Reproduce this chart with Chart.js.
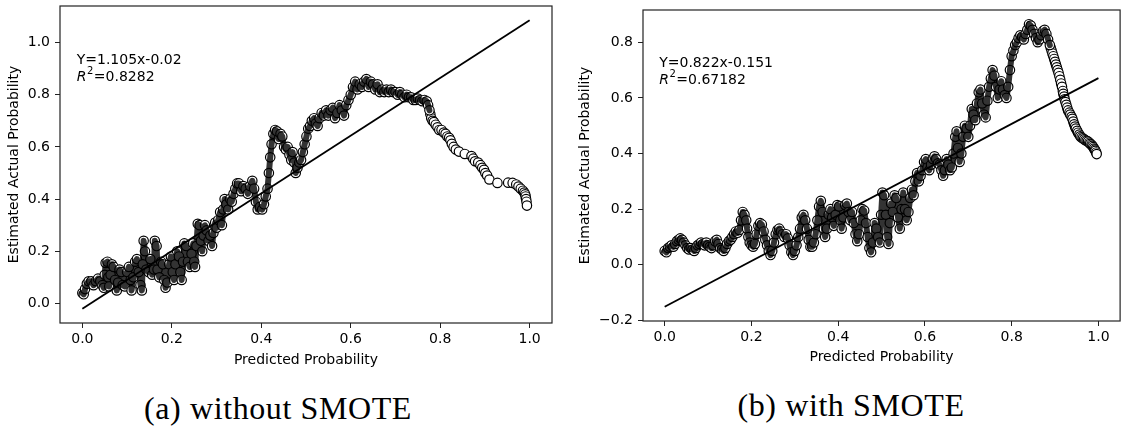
<!DOCTYPE html>
<html>
<head>
<meta charset="utf-8">
<title>Calibration curves</title>
<script src="https://cdn.jsdelivr.net/npm/chart.js@4.4.1/dist/chart.umd.min.js"></script>
<style>
  html, body { margin: 0; padding: 0; background: #fff; }
  body { width: 1126px; height: 428px; position: relative; overflow: hidden; }
  .panel { position: absolute; top: 0; height: 375px; }
  #panelA { left: 0; width: 563px; }
  #panelB { left: 566px; width: 560px; }
  .caption {
    position: absolute;
    font-family: 'Liberation Serif', serif;
    font-size: 32px;
    letter-spacing: 0.6px;
    color: #000;
    white-space: nowrap;
    transform: translate(-50%, -50%);
  }
</style>
</head>
<body>
<div class="panel" id="panelA"><canvas id="chartA"></canvas></div>
<div class="panel" id="panelB"><canvas id="chartB"></canvas></div>
<div class="caption" style="left:278px; top:408px;">(a) without SMOTE</div>
<div class="caption" style="left:851px; top:405px;">(b) with SMOTE</div>

<script>
// ---- DATA ----
const xTicks = [0, 0.2, 0.4, 0.6, 0.8, 1.0];
const yTicksA = [0, 0.2, 0.4, 0.6, 0.8, 1.0];
const yTicksB = [-0.2, 0, 0.2, 0.4, 0.6, 0.8];

// fitted lines, end points at x = 0 and x = 1
const fitX = [0, 1];
const fitYA = [-0.02, 1.085];
const fitYB = [-0.151, 0.671];
const fitTextA = ['Y=1.105x-0.02', '0.8282'];
const fitTextB = ['Y=0.822x-0.151', '0.67182'];

// (a) without SMOTE - dense part of the scatter
const denseA = [
  [0.000,0.040],[0.003,0.035],[0.006,0.055],[0.010,0.075],[0.014,0.085],[0.020,0.085],[0.025,0.070],[0.030,0.085],
  [0.035,0.095],[0.040,0.085],[0.045,0.070],[0.048,0.060],[0.050,0.110],[0.052,0.155],[0.056,0.160],[0.058,0.100],
  [0.060,0.065],[0.063,0.110],[0.066,0.150],[0.070,0.140],[0.073,0.090],[0.077,0.050],[0.080,0.080],[0.083,0.130],
  [0.087,0.120],[0.090,0.070],[0.095,0.065],[0.100,0.120],[0.104,0.140],[0.108,0.090],[0.110,0.050],[0.114,0.100],
  [0.118,0.160],[0.122,0.170],[0.126,0.120],[0.130,0.070],[0.133,0.050],[0.135,0.150],[0.137,0.240],[0.140,0.200],
  [0.143,0.130],[0.148,0.120],[0.152,0.170],[0.156,0.110],[0.160,0.130],[0.162,0.240],[0.166,0.220],[0.168,0.130],
  [0.172,0.100],[0.176,0.160],[0.180,0.150],[0.183,0.090],[0.186,0.060],[0.190,0.080],[0.194,0.150],[0.198,0.180],
  [0.202,0.120],[0.205,0.090],[0.208,0.150],[0.212,0.200],[0.216,0.180],[0.219,0.120],[0.222,0.090],[0.225,0.160],
  [0.228,0.230],[0.232,0.220],[0.236,0.160],[0.240,0.140],[0.244,0.190],[0.248,0.230],[0.250,0.160],[0.252,0.140],
  [0.255,0.220],[0.258,0.305],[0.262,0.300],[0.265,0.240],[0.268,0.200],[0.271,0.260],[0.274,0.300],[0.278,0.280],
  [0.282,0.240],[0.286,0.260],[0.290,0.220],[0.293,0.270],[0.297,0.310],[0.300,0.290],[0.304,0.320],[0.308,0.350],
  [0.312,0.300],[0.315,0.360],[0.318,0.400],[0.322,0.380],[0.326,0.360],[0.330,0.400],[0.334,0.390],[0.338,0.420],
  [0.342,0.440],[0.346,0.460],[0.350,0.460],[0.355,0.430],[0.360,0.450],[0.365,0.440],[0.370,0.420],[0.375,0.450],
  [0.380,0.470],[0.384,0.440],[0.388,0.390],[0.392,0.360],[0.397,0.370],[0.402,0.360],[0.406,0.380],[0.410,0.410],
  [0.414,0.440],[0.417,0.500],[0.420,0.560],[0.423,0.610],[0.427,0.650],[0.431,0.665],[0.435,0.660],[0.439,0.630],
  [0.443,0.650],[0.447,0.640],[0.451,0.600],[0.455,0.590],[0.459,0.600],[0.463,0.570],[0.467,0.550],[0.470,0.580],
  [0.474,0.540],[0.477,0.500],[0.481,0.520],[0.485,0.540],[0.489,0.550],[0.493,0.580],[0.497,0.610],[0.501,0.640],
  [0.505,0.670],[0.509,0.680],[0.513,0.700],[0.518,0.710],[0.522,0.690],[0.526,0.680],[0.530,0.710],[0.535,0.730],
  [0.540,0.720],[0.545,0.740],[0.550,0.720],[0.555,0.740],[0.560,0.750],[0.565,0.710],[0.570,0.730],[0.575,0.760],
  [0.580,0.740],[0.585,0.720],[0.590,0.760],[0.595,0.780],[0.600,0.800],[0.605,0.830],[0.610,0.850],[0.615,0.820],
  [0.620,0.840],[0.625,0.830],[0.630,0.850],[0.635,0.860],[0.640,0.830],[0.645,0.850],[0.650,0.840],[0.655,0.820],
  [0.660,0.840],[0.665,0.810],[0.670,0.820],[0.675,0.810],[0.680,0.820],[0.685,0.810],[0.690,0.820],[0.695,0.810],
  [0.700,0.810],[0.705,0.800],[0.710,0.810],[0.715,0.800],[0.720,0.790],[0.725,0.800],[0.730,0.790],[0.735,0.790],
  [0.740,0.780],[0.745,0.780],[0.750,0.785],[0.755,0.780],[0.760,0.775],[0.765,0.780],[0.770,0.775],[0.773,0.760],
  [0.776,0.740]
];
// (a) sparse tail, single circles visible
const tailA = [
  [0.778,0.725],[0.780,0.710],[0.783,0.700],[0.786,0.695],[0.790,0.685],[0.794,0.675],[0.798,0.665],[0.803,0.665],
  [0.808,0.655],[0.812,0.650],[0.816,0.640],[0.820,0.635],[0.823,0.625],[0.826,0.612],[0.830,0.600],[0.835,0.590],
  [0.842,0.582],[0.855,0.573],[0.870,0.565],[0.874,0.555],[0.878,0.545],[0.885,0.540],[0.890,0.530],[0.894,0.520],
  [0.898,0.512],[0.901,0.500],[0.905,0.490],[0.910,0.475],[0.928,0.462],[0.952,0.463],[0.962,0.462],[0.970,0.456],
  [0.975,0.448],[0.980,0.440],[0.985,0.432],[0.988,0.425],[0.990,0.418],[0.991,0.410],[0.992,0.400],[0.993,0.390],
  [0.994,0.375]
];

// (b) with SMOTE - dense part
const denseB = [
  [0.000,0.050],[0.004,0.045],[0.008,0.060],[0.012,0.065],[0.016,0.070],[0.020,0.065],[0.024,0.075],[0.028,0.085],
  [0.032,0.090],[0.036,0.095],[0.040,0.090],[0.044,0.080],[0.048,0.070],[0.052,0.060],[0.056,0.055],[0.060,0.060],
  [0.064,0.055],[0.068,0.050],[0.072,0.060],[0.076,0.070],[0.080,0.075],[0.084,0.080],[0.088,0.075],[0.092,0.070],
  [0.096,0.080],[0.100,0.070],[0.104,0.065],[0.108,0.060],[0.112,0.070],[0.116,0.085],[0.120,0.090],[0.124,0.075],
  [0.128,0.060],[0.132,0.055],[0.136,0.050],[0.140,0.060],[0.144,0.075],[0.148,0.085],[0.152,0.090],[0.156,0.100],
  [0.160,0.110],[0.164,0.120],[0.168,0.115],[0.172,0.125],[0.176,0.160],[0.180,0.190],[0.184,0.180],[0.188,0.160],
  [0.190,0.130],[0.193,0.100],[0.196,0.080],[0.200,0.070],[0.204,0.065],[0.208,0.075],[0.212,0.110],[0.216,0.140],
  [0.220,0.150],[0.224,0.145],[0.228,0.120],[0.232,0.090],[0.236,0.070],[0.240,0.050],[0.244,0.035],[0.248,0.050],
  [0.252,0.080],[0.256,0.110],[0.260,0.125],[0.264,0.130],[0.268,0.120],[0.272,0.110],[0.276,0.100],[0.280,0.110],
  [0.284,0.095],[0.288,0.070],[0.292,0.045],[0.296,0.035],[0.300,0.050],[0.304,0.070],[0.308,0.100],[0.312,0.130],
  [0.316,0.170],[0.320,0.180],[0.324,0.160],[0.328,0.130],[0.332,0.090],[0.336,0.065],[0.340,0.065],[0.344,0.080],
  [0.348,0.110],[0.352,0.160],[0.356,0.210],[0.360,0.230],[0.364,0.190],[0.367,0.130],[0.370,0.100],[0.374,0.130],
  [0.378,0.180],[0.382,0.200],[0.386,0.170],[0.390,0.140],[0.394,0.180],[0.398,0.215],[0.402,0.210],[0.405,0.160],
  [0.408,0.130],[0.412,0.170],[0.416,0.215],[0.420,0.220],[0.424,0.190],[0.428,0.160],[0.432,0.190],[0.436,0.150],
  [0.440,0.110],[0.444,0.085],[0.448,0.110],[0.452,0.160],[0.456,0.200],[0.460,0.195],[0.464,0.150],[0.468,0.100],
  [0.472,0.060],[0.476,0.045],[0.480,0.080],[0.484,0.150],[0.488,0.130],[0.492,0.100],[0.496,0.080],[0.499,0.180],
  [0.502,0.260],[0.506,0.250],[0.510,0.180],[0.513,0.100],[0.516,0.075],[0.519,0.150],[0.522,0.220],[0.526,0.190],
  [0.530,0.250],[0.534,0.240],[0.538,0.170],[0.542,0.130],[0.546,0.200],[0.550,0.260],[0.554,0.200],[0.558,0.160],
  [0.562,0.190],[0.566,0.240],[0.570,0.270],[0.574,0.250],[0.578,0.300],[0.582,0.330],[0.586,0.300],[0.590,0.320],
  [0.594,0.340],[0.598,0.370],[0.602,0.380],[0.606,0.350],[0.610,0.340],[0.614,0.360],[0.618,0.380],[0.622,0.390],
  [0.626,0.380],[0.630,0.365],[0.634,0.360],[0.638,0.340],[0.642,0.320],[0.646,0.340],[0.650,0.380],[0.654,0.360],
  [0.658,0.340],[0.662,0.350],[0.666,0.400],[0.670,0.460],[0.673,0.480],[0.676,0.420],[0.680,0.370],[0.684,0.400],
  [0.688,0.460],[0.692,0.500],[0.696,0.490],[0.700,0.460],[0.704,0.500],[0.708,0.560],[0.712,0.540],[0.716,0.520],
  [0.720,0.580],[0.724,0.620],[0.728,0.630],[0.732,0.580],[0.736,0.540],[0.740,0.530],[0.744,0.590],[0.748,0.640],
  [0.752,0.670],[0.756,0.700],[0.760,0.680],[0.764,0.640],[0.768,0.600],[0.772,0.630],[0.776,0.660],[0.780,0.630],
  [0.784,0.610],[0.788,0.600],[0.792,0.640],[0.796,0.700],[0.800,0.750],[0.804,0.770],[0.808,0.790],[0.812,0.800],
  [0.816,0.815],[0.820,0.825],[0.824,0.820],[0.828,0.810],[0.832,0.830],[0.836,0.845],[0.840,0.865],[0.844,0.860],
  [0.848,0.845],[0.852,0.830],[0.856,0.815],[0.860,0.800],[0.864,0.810],[0.868,0.825],[0.872,0.840],[0.876,0.845],
  [0.880,0.830],[0.884,0.810],[0.888,0.790]
];
// (b) falling tail, circles packed close together
const tailB = [
  [0.890,0.780],[0.892,0.770],[0.894,0.760],[0.896,0.750],[0.898,0.740],[0.900,0.730],[0.902,0.720],[0.904,0.710],
  [0.906,0.700],[0.908,0.690],[0.910,0.678],[0.912,0.665],[0.914,0.652],[0.916,0.640],[0.918,0.625],[0.919,0.615],
  [0.921,0.605],[0.922,0.595],[0.924,0.585],[0.926,0.575],[0.928,0.565],[0.930,0.555],[0.933,0.547],[0.935,0.540],
  [0.938,0.532],[0.940,0.525],[0.942,0.515],[0.944,0.505],[0.946,0.497],[0.948,0.490],[0.951,0.482],[0.953,0.475],
  [0.956,0.468],[0.958,0.462],[0.961,0.458],[0.964,0.455],[0.967,0.451],[0.970,0.448],[0.973,0.446],[0.976,0.443],
  [0.979,0.439],[0.981,0.435],[0.984,0.432],[0.986,0.428],[0.988,0.423],[0.990,0.418],[0.992,0.414],[0.993,0.410],
  [0.995,0.404],[0.996,0.398]
];

// ---- DEFAULTS ----
Chart.defaults.font.family = '"DejaVu Sans", sans-serif';
Chart.defaults.font.size = 14;
Chart.defaults.color = '#000';

function toPoints(pairs) {
  return pairs.map(p => ({ x: p[0], y: p[1] }));
}

function fmtTick(v) {
  return v.toFixed(1).replace('-', '\u2212');
}

// ---- PLUGIN: frame all round + fit text ----
const framePlugin = {
  id: 'frame',
  afterDraw(chart, args, opts) {
    const { ctx, chartArea: a } = chart;
    ctx.save();
    ctx.strokeStyle = '#222';
    ctx.lineWidth = 1.2;
    ctx.strokeRect(a.left, a.top, a.right - a.left, a.bottom - a.top);

    // equation + R^2
    const x = a.left + 0.034 * (a.right - a.left);
    const y1 = a.top + 0.17 * (a.bottom - a.top);
    const y2 = y1 + 17;
    ctx.fillStyle = '#000';
    ctx.textBaseline = 'middle';
    ctx.textAlign = 'left';
    ctx.font = '14px "DejaVu Sans"';
    ctx.fillText(opts.text[0], x, y1);
    ctx.font = 'italic 14px "DejaVu Sans"';
    ctx.fillText('R', x, y2);
    let w = ctx.measureText('R').width + 0.5;
    ctx.font = '10px "DejaVu Sans"';
    ctx.fillText('2', x + w, y2 - 5);
    w += ctx.measureText('2').width + 0.5;
    ctx.font = '14px "DejaVu Sans"';
    ctx.fillText('=' + opts.text[1], x + w, y2);
    ctx.restore();
  }
};

// ---- BUILD ONE PANEL ----
function makeChart(id, cfg) {
  const ctx = document.getElementById(id).getContext('2d');
  return new Chart(ctx, {
    type: 'scatter',
    data: {
      datasets: [
        { // fitted line on top
          data: fitX.map((x, i) => ({ x: x, y: cfg.fitY[i] })),
          showLine: true, pointRadius: 0, borderColor: '#000', borderWidth: 1.8, order: 0
        },
        { // dark body of the overlapping circles
          data: toPoints(cfg.dense),
          showLine: true, pointRadius: 0, borderColor: 'rgba(0,0,0,0.8)', borderWidth: 6,
          borderJoinStyle: 'round', borderCapStyle: 'round', order: 1
        },
        {
          data: toPoints(cfg.dense),
          pointRadius: 4.7, pointBackgroundColor: '#fff', pointBorderColor: '#000', pointBorderWidth: 1.2, order: 2
        },
        {
          data: toPoints(cfg.tail),
          pointRadius: 4.7, pointBackgroundColor: '#fff', pointBorderColor: '#000', pointBorderWidth: 1.2, order: 2
        }
      ]
    },
    options: {
      responsive: true,
      maintainAspectRatio: false,
      animation: false,
      events: [],
      layout: { padding: cfg.padding },
      plugins: {
        legend: { display: false },
        tooltip: { enabled: false },
        frame: { text: cfg.text }
      },
      scales: {
        x: {
          type: 'linear', min: -0.05, max: 1.05,
          afterBuildTicks: s => { s.ticks = xTicks.map(v => ({ value: v })); },
          afterFit: s => { s.height = cfg.xAxisH; s.paddingLeft = 0; s.paddingRight = 0; },
          ticks: { callback: v => fmtTick(v), padding: 3, maxRotation: 0 },
          grid: { drawOnChartArea: false, drawTicks: true, tickLength: 5, tickColor: '#222', tickWidth: 1 },
          border: { display: false },
          title: { display: true, text: 'Predicted Probability', padding: { top: 0, bottom: cfg.xTitlePad } }
        },
        y: {
          type: 'linear', min: cfg.yMin, max: cfg.yMax,
          afterBuildTicks: s => { s.ticks = cfg.yTicks.map(v => ({ value: v })); },
          afterFit: s => { s.width = cfg.yAxisW; s.paddingTop = 0; s.paddingBottom = 0; },
          ticks: { callback: v => fmtTick(v), padding: 5 },
          grid: { drawOnChartArea: false, drawTicks: true, tickLength: 5, tickColor: '#222', tickWidth: 1 },
          border: { display: false },
          title: { display: true, text: 'Estimated Actual Probability', padding: { top: cfg.yTitlePad, bottom: 0 } }
        }
      }
    },
    plugins: [framePlugin]
  });
}

makeChart('chartA', {
  dense: denseA, tail: tailA, fitY: fitYA, text: fitTextA,
  yMin: -0.075, yMax: 1.14, yTicks: yTicksA,
  padding: { top: 6, right: 11, bottom: 0, left: 0 },
  yAxisW: 60, xAxisH: 52, xTitlePad: 6.6, yTitlePad: 6.1
});

makeChart('chartB', {
  dense: denseB, tail: tailB, fitY: fitYB, text: fitTextB,
  yMin: -0.202, yMax: 0.916, yTicks: yTicksB,
  padding: { top: 10, right: 3, bottom: 0, left: 0 },
  yAxisW: 77, xAxisH: 54, xTitlePad: 9.6, yTitlePad: 10.6
});
</script>
</body>
</html>
